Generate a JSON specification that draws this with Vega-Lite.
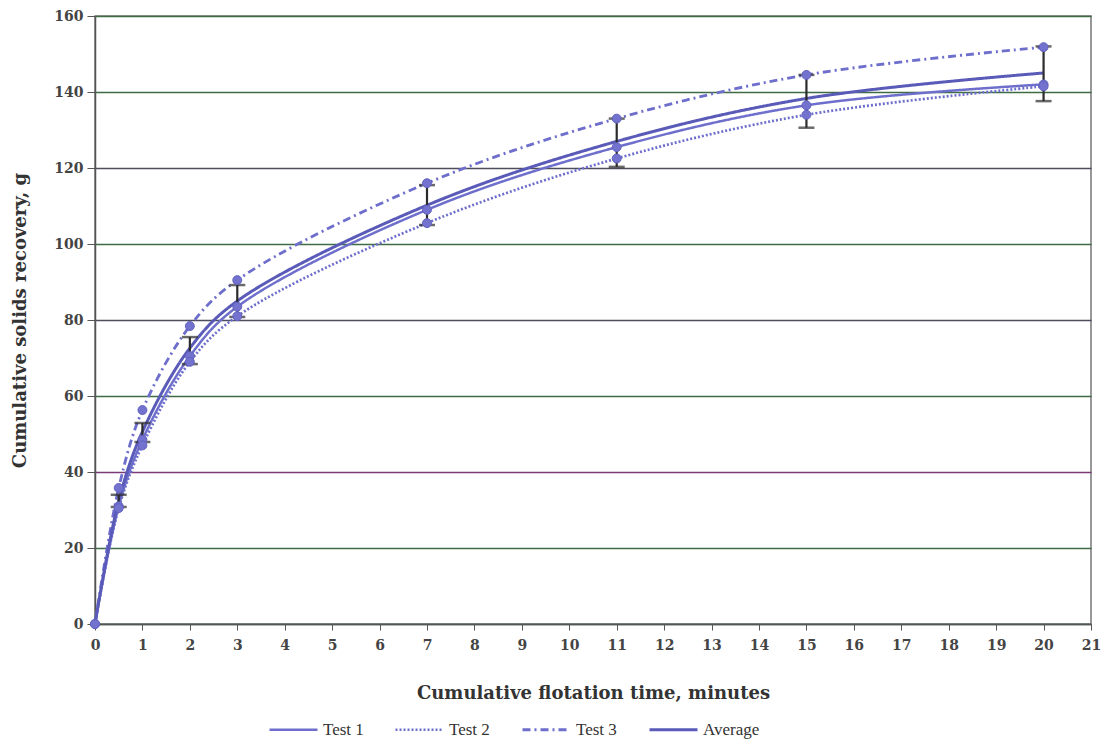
{
  "$schema": "https://vega.github.io/schema/vega-lite/v6.json",
  "width": 996,
  "height": 608,
  "autosize": {"type": "none"},
  "padding": {"left": 95, "top": 16, "right": 18, "bottom": 117},
  "background": "white",
  "config": {
    "view": {"stroke": "#777777", "strokeWidth": 1.5},
    "font": "DejaVu Serif"
  },
  "datasets": {
    "series": [
      {"series": "Test 1", "t": 0, "v": 0},
      {"series": "Test 1", "t": 0.5, "v": 31},
      {"series": "Test 1", "t": 1, "v": 48.5},
      {"series": "Test 1", "t": 2, "v": 70.5},
      {"series": "Test 1", "t": 3, "v": 83.5},
      {"series": "Test 1", "t": 7, "v": 109},
      {"series": "Test 1", "t": 11, "v": 125.5},
      {"series": "Test 1", "t": 15, "v": 136.5},
      {"series": "Test 1", "t": 20, "v": 142},
      {"series": "Test 2", "t": 0, "v": 0},
      {"series": "Test 2", "t": 0.5, "v": 30.5},
      {"series": "Test 2", "t": 1, "v": 47},
      {"series": "Test 2", "t": 2, "v": 69},
      {"series": "Test 2", "t": 3, "v": 81},
      {"series": "Test 2", "t": 7, "v": 105.5},
      {"series": "Test 2", "t": 11, "v": 122.5},
      {"series": "Test 2", "t": 15, "v": 134},
      {"series": "Test 2", "t": 20, "v": 141.5},
      {"series": "Test 3", "t": 0, "v": 0},
      {"series": "Test 3", "t": 0.5, "v": 35.8},
      {"series": "Test 3", "t": 1, "v": 56.3},
      {"series": "Test 3", "t": 2, "v": 78.4},
      {"series": "Test 3", "t": 3, "v": 90.5},
      {"series": "Test 3", "t": 7, "v": 116},
      {"series": "Test 3", "t": 11, "v": 133},
      {"series": "Test 3", "t": 15, "v": 144.5},
      {"series": "Test 3", "t": 20, "v": 151.8},
      {"series": "Average", "t": 0, "v": 0},
      {"series": "Average", "t": 0.5, "v": 32.4},
      {"series": "Average", "t": 1, "v": 50.6},
      {"series": "Average", "t": 2, "v": 72.6},
      {"series": "Average", "t": 3, "v": 85},
      {"series": "Average", "t": 7, "v": 110.2},
      {"series": "Average", "t": 11, "v": 127},
      {"series": "Average", "t": 15, "v": 138.3},
      {"series": "Average", "t": 20, "v": 145}
    ],
    "errors": [
      {"t": 0.5, "lo": 30.8, "hi": 34},
      {"t": 1, "lo": 47.9, "hi": 52.9},
      {"t": 2, "lo": 68.4, "hi": 75.5},
      {"t": 3, "lo": 80.8, "hi": 89.2},
      {"t": 7, "lo": 105, "hi": 115.5},
      {"t": 11, "lo": 120.3, "hi": 133},
      {"t": 15, "lo": 130.6, "hi": 144.5},
      {"t": 20, "lo": 137.6, "hi": 152}
    ]
  },
  "layer": [
    {
      "data": {"name": "series"},
      "mark": {"type": "line", "interpolate": "catmull-rom"},
      "encoding": {
        "x": {
          "field": "t", "type": "quantitative",
          "scale": {"domain": [0, 21], "nice": false},
          "axis": {
            "values": [0,1,2,3,4,5,6,7,8,9,10,11,12,13,14,15,16,17,18,19,20,21],
            "title": "Cumulative flotation time, minutes",
            "titleFont": "DejaVu Serif", "titleFontSize": 18, "titleFontWeight": "bold", "titleColor": "#333333",
            "titlePadding": 32,
            "labelFont": "DejaVu Serif", "labelFontSize": 14, "labelFontWeight": "bold", "labelColor": "#444444",
            "labelPadding": 8, "labelFlush": false,
            "tickSize": 6, "tickColor": "#555555", "domainColor": "#555555", "domainWidth": 1.5,
            "grid": false
          }
        },
        "y": {
          "field": "v", "type": "quantitative",
          "scale": {"domain": [0, 160], "nice": false},
          "axis": {
            "values": [0,20,40,60,80,100,120,140,160],
            "title": "Cumulative solids recovery, g",
            "titleFont": "DejaVu Serif", "titleFontSize": 18, "titleFontWeight": "bold", "titleColor": "#333333",
            "titlePadding": 24,
            "labelFont": "DejaVu Serif", "labelFontSize": 14, "labelFontWeight": "bold", "labelColor": "#444444",
            "labelPadding": 4, "labelFlush": false,
            "tickSize": 8, "tickColor": "#555555", "domainColor": "#555555", "domainWidth": 1.5,
            "grid": true,
            "gridWidth": 1.3,
            "gridColor": {
              "condition": [
                {"test": "datum.value == 40", "value": "#7a3a7a"},
                {"test": "datum.value == 80 || datum.value == 120", "value": "#4d4d5d"}
              ],
              "value": "#3f6b45"
            }
          }
        },
        "color": {
          "field": "series", "type": "nominal",
          "scale": {"domain": ["Test 1", "Test 2", "Test 3", "Average"], "range": ["#6e6ecc", "#6e6ecc", "#6e6ecc", "#5a5ab8"]},
          "legend": {
            "title": null,
            "orient": "none",
            "direction": "horizontal",
            "columns": 4,
            "legendX": 173,
            "legendY": 688,
            "symbolType": "stroke",
            "symbolSize": 2304,
            "columnPadding": 26,
            "labelFont": "Liberation Serif",
            "labelFontSize": 17,
            "labelColor": "#333333",
            "labelOffset": 4,
            "encode": {
              "symbols": {
                "update": {
                  "strokeWidth": {"signal": "datum.value === 'Average' ? 6 : 2.5"}
                }
              }
            }
          }
        },
        "strokeDash": {
          "field": "series", "type": "nominal",
          "scale": {"domain": ["Test 1", "Test 2", "Test 3", "Average"], "range": [[1, 0], [2, 2], [8, 4, 2, 4], [1, 0]]}
        },
        "strokeWidth": {
          "field": "series", "type": "nominal",
          "scale": {"domain": ["Test 1", "Test 2", "Test 3", "Average"], "range": [2.5, 3, 2.5, 6]}
        },
        "order": {"field": "t", "type": "quantitative"}
      }
    },
    {
      "data": {"name": "errors"},
      "mark": {"type": "rule", "color": "#2b2b2b", "strokeWidth": 2.2},
      "encoding": {
        "x": {"field": "t", "type": "quantitative"},
        "y": {"field": "lo", "type": "quantitative"},
        "y2": {"field": "hi"}
      }
    },
    {
      "data": {"name": "errors"},
      "mark": {"type": "tick", "orient": "horizontal", "color": "#2b2b2b", "size": 16, "thickness": 2.5},
      "encoding": {
        "x": {"field": "t", "type": "quantitative"},
        "y": {"field": "lo", "type": "quantitative"}
      }
    },
    {
      "data": {"name": "errors"},
      "mark": {"type": "tick", "orient": "horizontal", "color": "#2b2b2b", "size": 16, "thickness": 2.5},
      "encoding": {
        "x": {"field": "t", "type": "quantitative"},
        "y": {"field": "hi", "type": "quantitative"}
      }
    },
    {
      "data": {"name": "series"},
      "transform": [{"filter": "datum.series != 'Average'"}],
      "mark": {"type": "point", "shape": "circle", "filled": true, "size": 80, "color": "#7373cf", "opacity": 1, "stroke": "#6262c0", "strokeWidth": 1},
      "encoding": {
        "x": {"field": "t", "type": "quantitative"},
        "y": {"field": "v", "type": "quantitative"}
      }
    }
  ]
}
